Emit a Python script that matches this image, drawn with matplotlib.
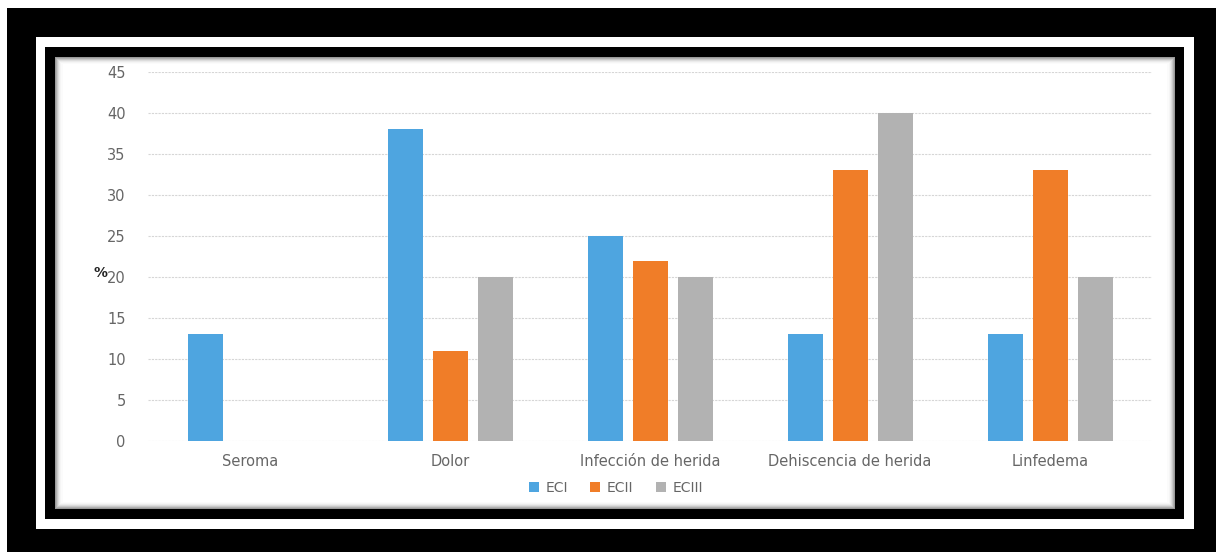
import matplotlib
matplotlib.use("Agg")
import matplotlib.pyplot as plt
from matplotlib.patches import Rectangle
import numpy as np

categories = ["Seroma", "Dolor", "Infección de herida", "Dehiscencia de herida", "Linfedema"]
series_names = ["ECI", "ECII", "ECIII"]
eci = [13, 38, 25, 13, 13]
ecii = [0, 11, 22, 33, 33]
eciii = [0, 20, 20, 40, 20]
yticks = [0, 5, 10, 15, 20, 25, 30, 35, 40, 45]
colors = ["#4EA5E0", "#F07D28", "#B2B2B2"]

W, H = 1216, 552
fig = plt.figure(figsize=(W / 100, H / 100), dpi=100)
fig.patch.set_facecolor("white")

def rect(x0, y0, x1, y1, **kw):
    fig.patches.append(Rectangle((x0 / W, 1 - y1 / H), (x1 - x0) / W, (y1 - y0) / H,
                                 transform=fig.transFigure, figure=fig, zorder=-10, **kw))

# frames
rect(7, 8, 1216, 552, facecolor="black", edgecolor="none")
rect(36, 37, 1194, 529, facecolor="white", edgecolor="none")
rect(45, 47, 1184, 519, facecolor="black", edgecolor="none")
rect(55, 57, 1175, 509, facecolor="#9a9a9a", edgecolor="none")
# soft inner shadow
for i, c in enumerate(["#b0b0b0", "#c8c8c8", "#dcdcdc", "#ebebeb", "#f5f5f5", "#fbfbfb"]):
    rect(55 + i + 1, 57 + i + 1, 1175 - i - 1, 509 - i - 1, facecolor=c, edgecolor="none")
rect(63, 64, 1167, 502, facecolor="white", edgecolor="none")

ax = fig.add_axes([148 / W, 1 - 441 / H, (1152 - 148) / W, (441 - 72) / H])
ax.set_zorder(5)
ax.set_facecolor("none")
x = np.arange(len(categories))
off = 0.225
bw = 0.175
for k, (vals, col) in enumerate(zip([eci, ecii, eciii], colors)):
    ax.bar(x + (k - 1) * off, vals, width=bw, color=col, label=series_names[k], zorder=3)

ax.set_xlim(-0.51, len(categories) - 0.49)
ax.set_ylim(0, 45)
ax.set_yticks(yticks)
ax.set_yticklabels([str(v) for v in yticks])
ax.set_xticks(x)
ax.set_xticklabels(categories)
ax.grid(axis="y", color="#d6d6d6", linewidth=0.8, linestyle=(0, (2, 1)), zorder=0)
for s in ax.spines.values():
    s.set_visible(False)
ax.tick_params(axis="both", length=0, colors="#666666", labelsize=10.5)
ax.tick_params(axis="y", pad=16)
ax.tick_params(axis="x", pad=9)

fig.text(101 / W, 1 - 273 / H, "%", fontsize=10, fontweight="bold", color="#222222",
         ha="center", va="center", zorder=6)

leg = ax.legend(loc="center", bbox_to_anchor=((616 - 148) / (1152 - 148), (441 - 488) / (441 - 72)),
                ncol=3, frameon=False, fontsize=10, handlelength=0.7, handleheight=0.7,
                handletextpad=0.5, columnspacing=1.6)
for t in leg.get_texts():
    t.set_color("#666666")

fig.savefig("out.png", dpi=100, facecolor=fig.get_facecolor())
